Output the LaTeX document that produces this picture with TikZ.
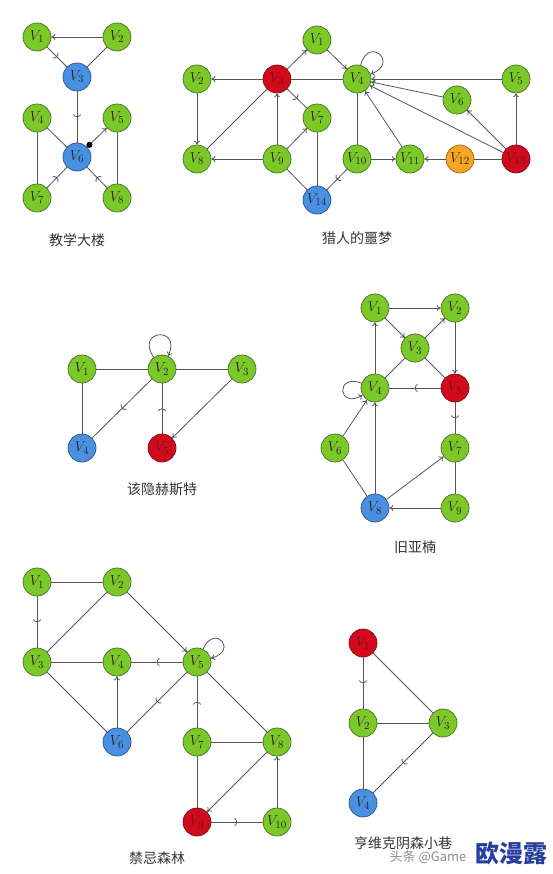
\documentclass[tikz,border=0pt]{standalone}
\usepackage{fontspec}
\newfontfamily\cjk{Noto Sans CJK SC}
\usetikzlibrary{positioning,arrows.meta,decorations.markings}
\definecolor{gfill}{RGB}{124,200,40}
\definecolor{gdraw}{RGB}{72,112,34}
\definecolor{bfill}{RGB}{74,144,226}
\definecolor{bdraw}{RGB}{42,82,132}
\definecolor{rfill}{RGB}{210,10,30}
\definecolor{rdraw}{RGB}{118,16,22}
\definecolor{ofill}{RGB}{245,166,35}
\definecolor{odraw}{RGB}{150,100,24}
\definecolor{edgegray}{RGB}{85,85,85}
\definecolor{wmblue}{RGB}{38,62,156}
\tikzset{vtx/.style={circle, line width=0.7pt, minimum size=28pt, inner sep=0pt, font=\fontsize{15}{17}\selectfont, text=black!85},
    gv/.style={vtx, draw=gdraw, fill=gfill},
    bv/.style={vtx, draw=bdraw, fill=bfill},
    rv/.style={vtx, draw=rdraw, fill=rfill, text=rdraw},
    ov/.style={vtx, draw=odraw, fill=ofill},
    title/.style={font=\cjk\fontsize{14}{16}\selectfont, text=black!80},
    line/.style={draw=edgegray, line width=0.8pt},
    arr/.style={line, -{To[length=4pt,width=6pt]}},
    dotarr/.style={line, {Circle[length=6pt,fill=black,color=black]}-{To[length=4pt,width=6pt]}},
    hook/.style={line, postaction={decorate}, decoration={markings, mark=at position 0.5 with {\arrow{Arc Barb[length=2.5pt,width=8pt,line width=0.8pt]}}}}}

\begin{document}
\begin{tikzpicture}[x=1pt, y=-1pt, node distance=80pt, on grid]
    \useasboundingbox (0,0) rectangle (553,874);

    % 教学大楼
    \node[gv]                                (a1) at (37,37) {$V_1$};
    \node[gv,right=of a1]                    (a2) {$V_2$};
    \node[bv,below right=40pt and 40pt of a1] (a3) {$V_3$};
    \node[gv,below=81pt of a1]               (a4) {$V_4$};
    \node[gv,below=81pt of a2]               (a5) {$V_5$};
    \node[bv,below=80pt of a3]               (a6) {$V_6$};
    \node[gv,below=of a4]                    (a7) {$V_7$};
    \node[gv,below=of a5]                    (a8) {$V_8$};
    \node[title,below=83pt of a6]            (ta) {教学大楼};

    \draw[arr]    (a2) -- (a1);
    \draw[hook]   (a1) -- (a3);
    \draw[line]   (a2) -- (a3);
    \draw[hook]   (a3) -- (a6);
    \draw[line]   (a4) -- (a6);
    \draw[line]   (a4) -- (a7);
    \draw[line]   (a5) -- (a8);
    \draw[dotarr] (a6) -- (a5);
    \draw[hook]   (a7) -- (a6);
    \draw[hook]   (a8) -- (a6);

    % 猎人的噩梦
    \node[rv]                                 (b3) at (277,79) {$V_3$};
    \node[gv,left=of b3]                      (b2) {$V_2$};
    \node[gv,right=of b3]                     (b4) {$V_4$};
    \node[gv,above right=39pt and 40pt of b3] (b1) {$V_1$};
    \node[gv,right=159pt of b4]               (b5) {$V_5$};
    \node[gv,below right=21pt and 100pt of b4] (b6) {$V_6$};
    \node[gv,below right=39pt and 40pt of b3] (b7) {$V_7$};
    \node[gv,below=of b2]                     (b8) {$V_8$};
    \node[gv,below=of b3]                     (b9) {$V_9$};
    \node[gv,below=of b4]                     (b10) {$V_{10}$};
    \node[gv,right=53pt of b10]               (b11) {$V_{11}$};
    \node[ov,right=50pt of b11]               (b12) {$V_{12}$};
    \node[rv,below=of b5]                     (b13) {$V_{13}$};
    \node[bv,below=82pt of b7]                (b14) {$V_{14}$};
    \node[title,below=159pt of b4]            (tb) {猎人的噩梦};

    \draw[arr]  (b3) -- (b1);
    \draw[arr]  (b1) -- (b4);
    \draw[arr]  (b4) to[out=75,in=20,looseness=6] (b4);
    \draw[arr]  (b3) -- (b2);
    \draw[line] (b3) -- (b4);
    \draw[arr]  (b5) -- (b4);
    \draw[arr]  (b6) -- (b4);
    \draw[arr]  (b13) -- (b4);
    \draw[arr]  (b13) -- (b6);
    \draw[arr]  (b13) -- (b5);
    \draw[line] (b12) -- (b13);
    \draw[arr]  (b12) -- (b11);
    \draw[arr]  (b11) -- (b4);
    \draw[arr]  (b10) -- (b11);
    \draw[line] (b4) -- (b10);
    \draw[hook] (b10) -- (b14);
    \draw[line] (b3) -- (b8);
    \draw[arr]  (b2) -- (b8);
    \draw[arr]  (b9) -- (b8);
    \draw[arr]  (b9) -- (b3);
    \draw[arr]  (b9) -- (b7);
    \draw[hook] (b3) -- (b7);
    \draw[line] (b7) -- (b14);
    \draw[line] (b9) -- (b14);

    % 该隐赫斯特
    \node[gv]                     (c1) at (82,369) {$V_1$};
    \node[gv,right=of c1]         (c2) {$V_2$};
    \node[gv,right=of c2]         (c3) {$V_3$};
    \node[bv,below=79pt of c1]    (c4) {$V_4$};
    \node[rv,below=79pt of c2]    (c5) {$V_5$};
    \node[title,below=41pt of c5] (tc) {该隐赫斯特};

    \draw[line] (c1) -- (c2);
    \draw[line] (c2) -- (c3);
    \draw[line] (c1) -- (c4);
    \draw[arr]  (c2) to[out=125,in=65,looseness=6] (c2);
    \draw[hook] (c2) -- (c4);
    \draw[hook] (c5) -- (c2);
    \draw[arr]  (c3) -- (c5);

    % 旧亚楠
    \node[gv]                                  (d1) at (375,308) {$V_1$};
    \node[gv,right=of d1]                      (d2) {$V_2$};
    \node[gv,below right=40pt and 40pt of d1]  (d3) {$V_3$};
    \node[gv,below=of d1]                      (d4) {$V_4$};
    \node[rv,below=of d2]                      (d5) {$V_5$};
    \node[gv,below left=60pt and 40pt of d4]   (d6) {$V_6$};
    \node[gv,below=60pt of d5]                 (d7) {$V_7$};
    \node[bv,below=120pt of d4]                (d8) {$V_8$};
    \node[gv,below=60pt of d7]                 (d9) {$V_9$};
    \node[title,below right=39pt and 40pt of d8] (td) {旧亚楠};

    \draw[arr]  (d1) -- (d2);
    \draw[arr]  (d1) -- (d3);
    \draw[arr]  (d3) -- (d2);
    \draw[arr]  (d2) -- (d5);
    \draw[line] (d3) -- (d4);
    \draw[line] (d3) -- (d5);
    \draw[hook] (d5) -- (d4);
    \draw[arr]  (d4) to[out=160,in=210,looseness=6] (d4);
    \draw[arr]  (d4) -- (d1);
    \draw[hook] (d5) -- (d7);
    \draw[arr]  (d6) -- (d4);
    \draw[line] (d6) -- (d8);
    \draw[arr]  (d8) -- (d4);
    \draw[arr]  (d8) -- (d7);
    \draw[line] (d7) -- (d9);
    \draw[arr]  (d9) -- (d8);

    % 禁忌森林
    \node[gv]                     (e1) at (37,582) {$V_1$};
    \node[gv,right=of e1]         (e2) {$V_2$};
    \node[gv,below=of e1]         (e3) {$V_3$};
    \node[gv,below=of e2]         (e4) {$V_4$};
    \node[gv,right=of e4]         (e5) {$V_5$};
    \node[bv,below=of e4]         (e6) {$V_6$};
    \node[gv,below=of e5]         (e7) {$V_7$};
    \node[gv,right=of e7]         (e8) {$V_8$};
    \node[rv,below=of e7]         (e9) {$V_9$};
    \node[gv,below=of e8]         (e10) {$V_{10}$};
    \node[title,below left=36pt and 40pt of e9] (te) {禁忌森林};

    \draw[line] (e1) -- (e2);
    \draw[hook] (e1) -- (e3);
    \draw[line] (e2) -- (e3);
    \draw[arr]  (e2) -- (e5);
    \draw[line] (e3) -- (e4);
    \draw[hook] (e5) -- (e4);
    \draw[arr]  (e5) to[out=65,in=15,looseness=6] (e5);
    \draw[line] (e3) -- (e6);
    \draw[arr]  (e6) -- (e4);
    \draw[hook] (e5) -- (e6);
    \draw[hook] (e7) -- (e5);
    \draw[line] (e5) -- (e8);
    \draw[line] (e7) -- (e8);
    \draw[line] (e7) -- (e9);
    \draw[arr]  (e8) -- (e9);
    \draw[arr]  (e10) -- (e8);
    \draw[hook] (e9) -- (e10);

    % 亨维克阴森小巷
    \node[rv]                     (f1) at (363,643) {$V_1$};
    \node[gv,below=of f1]         (f2) {$V_2$};
    \node[gv,right=of f2]         (f3) {$V_3$};
    \node[bv,below=of f2]         (f4) {$V_4$};
    \node[title,below right=40pt and 40pt of f4] (tf) {亨维克阴森小巷};

    \draw[hook] (f1) -- (f2);
    \draw[line] (f1) -- (f3);
    \draw[line] (f2) -- (f3);
    \draw[line] (f2) -- (f4);
    \draw[hook] (f3) -- (f4);

    \node[font=\cjk\fontsize{13}{15}\selectfont, text=black!45] (wm) at (428,857) {头条 @Game};
    \node[font=\cjk\bfseries\fontsize{24}{26}\selectfont, text=wmblue] (wmb) at (511,853) {欧漫露};
\end{tikzpicture}
\end{document}
